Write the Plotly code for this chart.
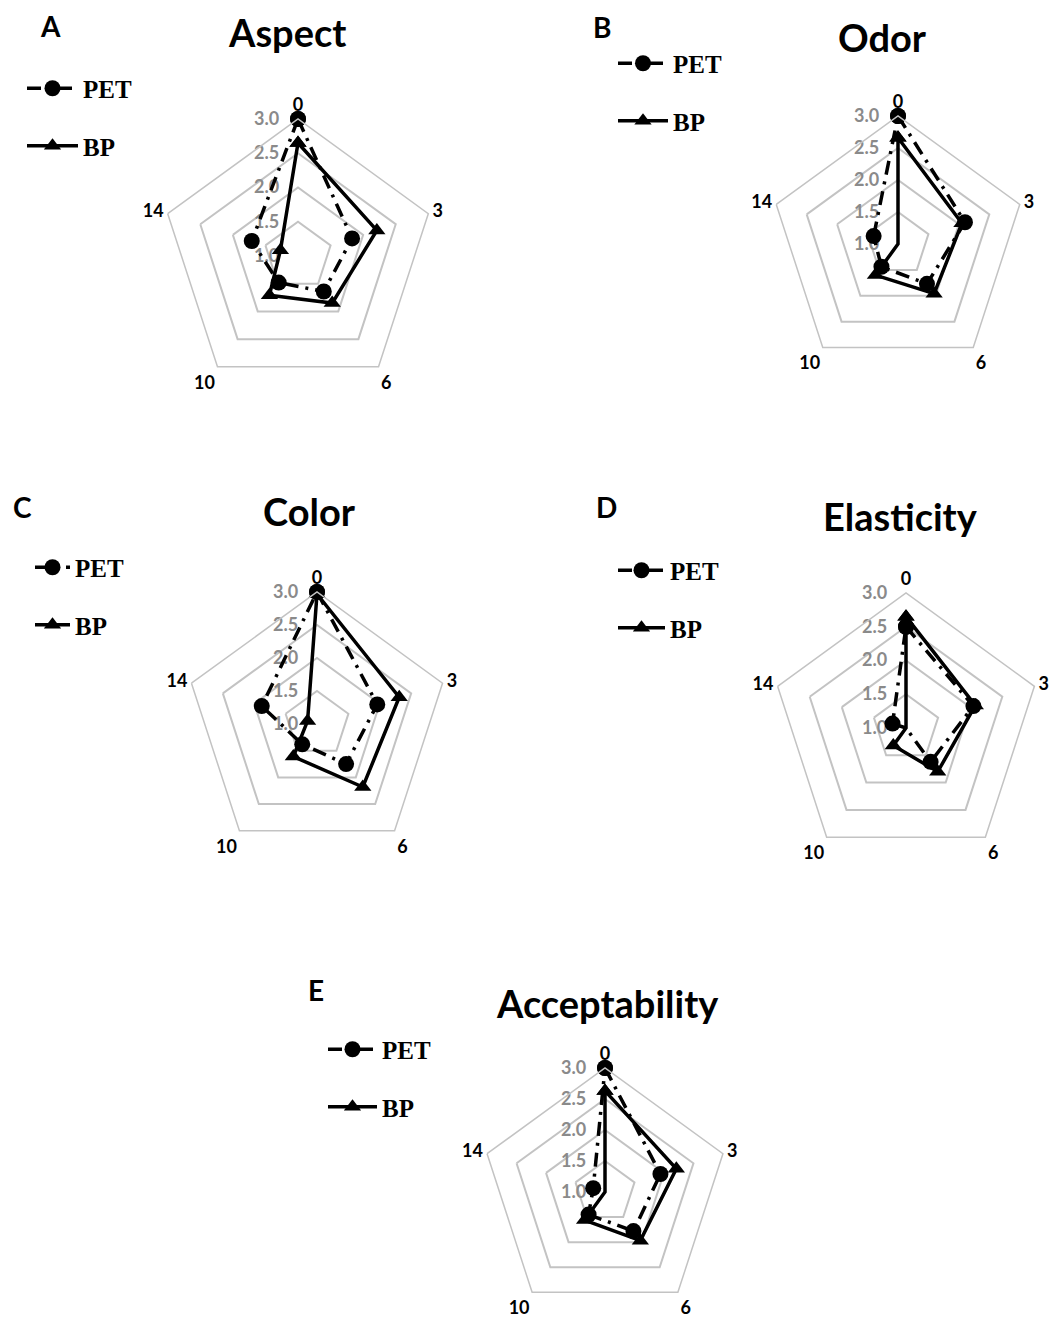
import plotly.graph_objects as go

# ---------------- data ----------------
times = ["0", "3", "6", "10", "14"]
series_names = ["PET", "BP"]
titles = ["Aspect", "Odor", "Color", "Elasticity", "Acceptability"]
letters = ["A", "B", "C", "D", "E"]
radial_ticks = [1.0, 1.5, 2.0, 2.5, 3.0]
radial_ticktext = ["1.0", "1.5", "2.0", "2.5", "3.0"]

aspect_pet = [3.0, 1.83, 1.64, 1.48, 1.71]
aspect_bp = [2.65, 2.21, 1.85, 1.71, 1.27]
odor_pet = [3.0, 2.10, 1.77, 1.44, 1.40]
odor_bp = [2.66, 2.05, 1.96, 1.60, 0.85]
color_pet = [3.0, 1.96, 1.75, 1.38, 1.88]
color_bp = [2.97, 2.31, 2.18, 1.61, 1.15]
elasticity_pet = [2.50, 2.05, 1.62, 1.00, 1.21]
elasticity_bp = [2.65, 2.08, 1.80, 1.32, 0.90]
accept_pet = [3.0, 1.94, 1.78, 1.45, 1.20]
accept_bp = [2.63, 2.21, 1.97, 1.56, 0.72]

pet_series = [aspect_pet, odor_pet, color_pet, elasticity_pet, accept_pet]
bp_series = [aspect_bp, odor_bp, color_bp, elasticity_bp, accept_bp]

# ---------------- layout geometry (pixels) ----------------
W, H = 1049, 1322
panels = [
    dict(cx=298, cy=256, R=137, title=(287, 32), letter=(50, 26), leg=(22, 117, 51)),
    dict(cx=898, cy=244, R=128, title=(882, 37), letter=(602, 27), leg=(613, 92, 50)),
    dict(cx=317, cy=724, R=132, title=(310, 511), letter=(22, 507), leg=(30, 596, 35)),
    dict(cx=906, cy=728, R=135, title=(900, 516), letter=(606, 507), leg=(613, 599, 47)),
    dict(cx=605, cy=1192, R=124, title=(607, 1003), letter=(316, 990), leg=(323, 1078, 49)),
]

GRID = "#c3c3c3"
TICKGRAY = "#8a8a8a"
SANS = "Lato"
SERIF = "Liberation Serif"

fig = go.Figure()
layout_updates = {}
annotations = []

for i, p in enumerate(panels):
    pid = "polar" if i == 0 else f"polar{i+1}"
    lid = "legend" if i == 0 else f"legend{i+1}"
    theta = times + [times[0]]
    bp = bp_series[i]
    pet = pet_series[i]

    fig.add_trace(go.Scatterpolar(
        r=bp + [bp[0]], theta=theta, subplot=pid, legend=lid,
        name=series_names[1], legendgroup=f"bp{i}", legendrank=2,
        mode="lines+markers",
        line=dict(color="black", width=3.5),
        marker=dict(symbol="triangle-up", size=15, color="black"),
        cliponaxis=False,
    ))
    fig.add_trace(go.Scatterpolar(
        r=pet + [pet[0]], theta=theta, subplot=pid, legend=lid,
        name=series_names[0], legendgroup=f"pet{i}", legendrank=1,
        mode="lines+markers",
        line=dict(color="black", width=3.5, dash="14px,7px,3px,7px"),
        marker=dict(symbol="circle", size=16, color="black"),
        cliponaxis=False,
    ))

    x0 = (p["cx"] - p["R"]) / W
    x1 = (p["cx"] + p["R"]) / W
    ytop = p["cy"] - p["R"]
    ybot = min(p["cy"] + p["R"], H)
    y0 = 1 - ybot / H
    y1 = 1 - ytop / H
    layout_updates[pid] = dict(
        domain=dict(x=[x0, x1], y=[max(y0, 0), y1]),
        bgcolor="white",
        gridshape="linear",
        radialaxis=dict(
            range=[1, 3], tickvals=radial_ticks, ticktext=radial_ticktext,
            showline=False, gridcolor=GRID, gridwidth=1.5, angle=90,
            tickangle=90,
            side="counterclockwise", ticks="outside", ticklen=12,
            tickcolor="rgba(0,0,0,0)",
            tickfont=dict(family=SANS, size=18, color=TICKGRAY, weight="bold"),
            layer="below traces",
        ),
        angularaxis=dict(
            type="category", categoryarray=times, direction="clockwise",
            rotation=90, showgrid=False, showline=True, linecolor=GRID,
            linewidth=1.5, ticks="",
            tickfont=dict(family=SANS, size=18, color="black", weight="bold"),
        ),
    )

    lx, ly, iw = p["leg"]
    layout_updates[lid] = dict(
        x=lx / W, y=1 - ly / H, xanchor="left", yanchor="middle",
        bgcolor="rgba(0,0,0,0)", itemwidth=max(iw, 30),
        tracegroupgap=22, traceorder="grouped",
        font=dict(family=SERIF, size=25, color="black", weight="bold"),
    )

    tx, ty = p["title"]
    annotations.append(dict(
        text=titles[i], x=tx / W, y=1 - ty / H, xref="paper", yref="paper",
        xanchor="center", yanchor="middle", showarrow=False,
        font=dict(family=SANS, size=38, color="black", weight="bold"),
    ))
    lx2, ly2 = p["letter"]
    annotations.append(dict(
        text=letters[i], x=lx2 / W, y=1 - ly2 / H, xref="paper", yref="paper",
        xanchor="center", yanchor="middle", showarrow=False,
        font=dict(family=SANS, size=28, color="black", weight="bold"),
    ))

fig.update_layout(
    width=W, height=H,
    margin=dict(l=0, r=0, t=0, b=0),
    paper_bgcolor="white",
    showlegend=True,
    annotations=annotations,
    **layout_updates,
)

fig.write_html("out.html")
